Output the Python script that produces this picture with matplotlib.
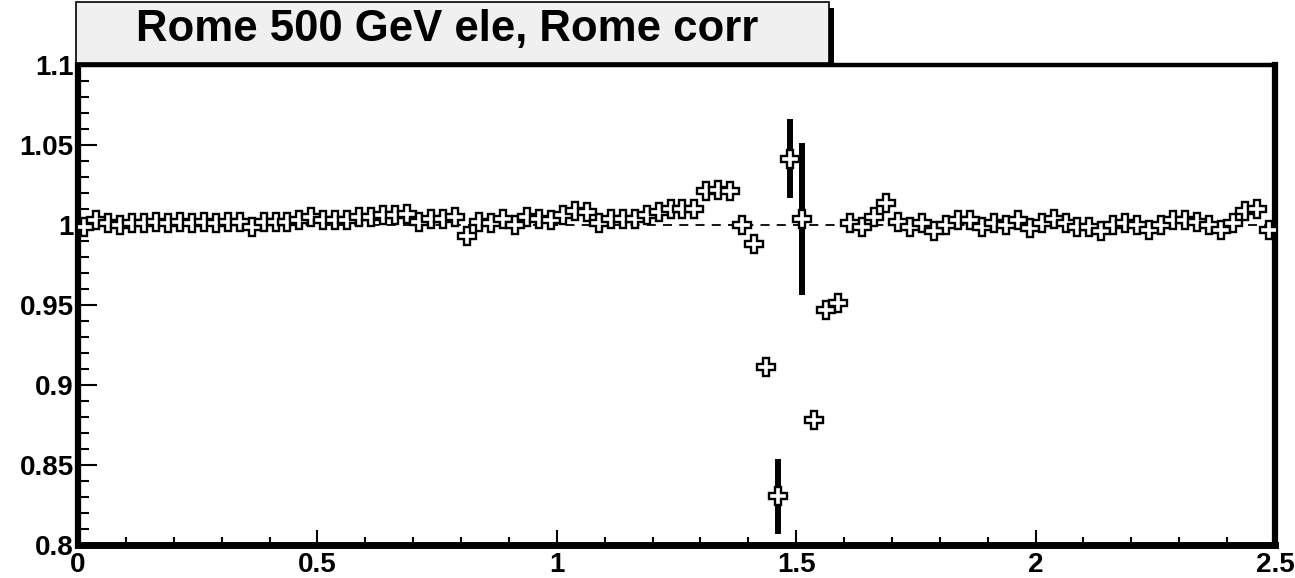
import matplotlib
matplotlib.use("Agg")
import matplotlib.pyplot as plt
from matplotlib.patches import Rectangle
from matplotlib.ticker import MultipleLocator
import numpy as np

plt.rcParams['font.family'] = ['Liberation Sans', 'DejaVu Sans']
plt.rcParams['font.weight'] = 'bold'

title = "Rome 500 GeV ele, Rome corr"
bin_width = 0.025
x_min, x_max = 0.0, 2.5
y_min, y_max = 0.8, 1.1

ratio = [
    0.999, 1.003, 1.001, 1.000, 1.001, 1.001, 1.002, 1.001, 1.002, 1.001,
    1.002, 1.001, 1.002, 1.002, 0.999, 1.002, 1.002, 1.002, 1.003, 1.005,
    1.003, 1.003, 1.003, 1.005, 1.005, 1.006, 1.006, 1.007, 1.002, 1.004,
    1.004, 1.005, 0.993, 1.002, 1.001, 1.004, 1.000, 1.005, 1.004, 1.003,
    1.006, 1.009, 1.008, 1.001, 1.004, 1.004, 1.004, 1.006, 1.008, 1.010,
    1.010, 1.010, 1.021, 1.022, 1.021, 1.000, 0.988, 0.911, 0.8305, 1.0415,
    1.0035, 0.878, 0.947, 0.951, 1.001, 0.999, 1.005, 1.014, 1.002, 0.999,
    1.001, 0.996, 1.000, 1.003, 1.003, 0.999, 1.001, 1.000, 1.003, 0.998,
    1.001, 1.004, 1.001, 0.999, 0.999, 0.996, 1.000, 1.001, 1.000, 0.997,
    1.000, 1.003, 1.003, 1.002, 1.000, 0.997, 1.001, 1.009, 1.010, 0.997,
]
errors = [0.002] * 100
errors[57] = 0.003
errors[58] = 0.0235
errors[59] = 0.0245
errors[60] = 0.0475
errors[61] = 0.003

x = x_min + bin_width * (np.arange(len(ratio)) + 0.5)

W, H = 1295, 578
fig = plt.figure(figsize=(W / 100, H / 100), dpi=100)
fig.patch.set_facecolor('white')
ax = fig.add_axes([78 / W, 1 - 545 / H, (1275 - 78) / W, (545 - 65) / H])

ax.axhline(1.0, color='black', lw=1.3, ls=(0, (5, 4)), zorder=1)
ax.errorbar(x, ratio, yerr=errors, fmt='none', ecolor='black', elinewidth=4.3,
            capsize=0, zorder=2)
ax.plot(x, ratio, ls='none', marker='P', ms=13, mfc='white', mec='black',
        mew=1.7, zorder=3)

ax.set_xlim(x_min, x_max)
ax.set_ylim(y_min, y_max)

ax.xaxis.set_minor_locator(MultipleLocator(0.1))
ax.yaxis.set_minor_locator(MultipleLocator(0.01))

def fmt(v):
    return f"{v:.2f}".rstrip('0').rstrip('.')

xt = np.arange(0, 2.51, 0.5)
yt = np.arange(0.8, 1.1001, 0.05)
ax.set_xticks(xt)
ax.set_xticklabels([fmt(v) for v in xt])
ax.set_yticks(yt)
ax.set_yticklabels([fmt(v) for v in yt])

ax.tick_params(axis='x', which='major', direction='in', length=11, width=1.5,
               labelsize=20, pad=5)
ax.tick_params(axis='x', which='minor', direction='in', length=5.5, width=1.5)
ax.tick_params(axis='y', which='major', direction='in', length=14, width=1.5,
               labelsize=20, pad=3)
ax.tick_params(axis='y', which='minor', direction='in', length=8, width=1.5)
for lab in ax.get_xticklabels() + ax.get_yticklabels():
    lab.set_fontweight('bold')

ax.spines['left'].set_linewidth(4.5)
ax.spines['bottom'].set_linewidth(5)
ax.spines['right'].set_linewidth(4.5)
ax.spines['top'].set_linewidth(3.2)

# title box with shadow
shadow = Rectangle((80 / W, 1 - 66 / H), (834 - 80) / W, (66 - 8) / H,
                   transform=fig.transFigure, facecolor='black',
                   edgecolor='none', zorder=5)
box = Rectangle((76 / W, 1 - 63 / H), (829 - 76) / W, (63 - 2) / H,
                transform=fig.transFigure, facecolor='#f0f0f0',
                edgecolor='black', lw=1.2, zorder=6)
fig.add_artist(shadow)
fig.add_artist(box)
fig.text(447 / W, 1 - 30 / H, title, ha='center', va='center', fontsize=31.5,
         fontweight='bold', zorder=7)

fig.savefig('out.png', dpi=100)
